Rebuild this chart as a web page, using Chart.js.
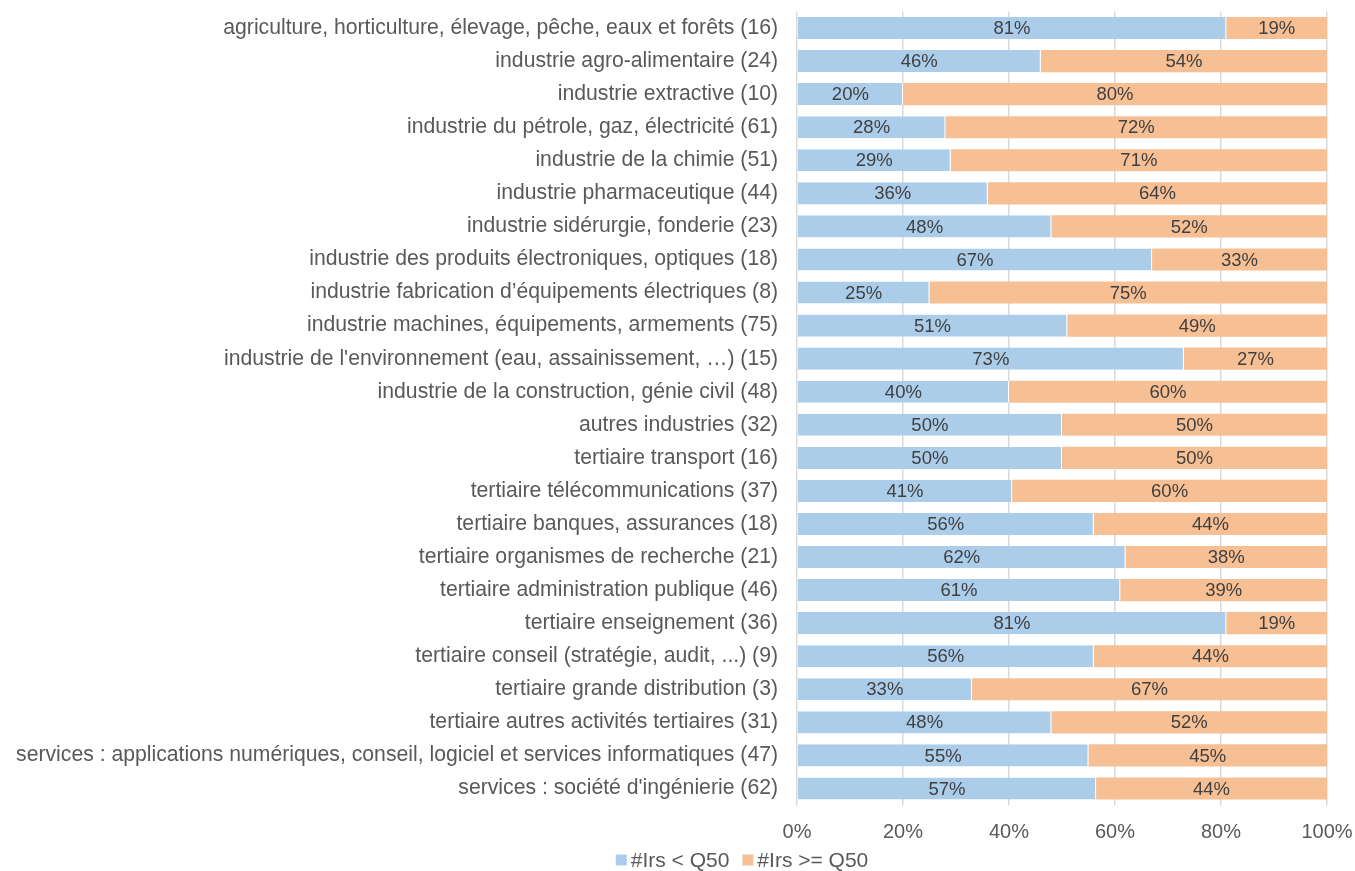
<!DOCTYPE html>
<html lang="fr">
<head>
<meta charset="utf-8">
<script src="https://cdn.jsdelivr.net/npm/chart.js@4.4.1/dist/chart.umd.min.js"></script>
<style>
    html, body { margin: 0; padding: 0; background: #ffffff; }
    #wrap { position: absolute; left: 0; top: 0; width: 1355px; height: 871px; }
</style>
</head>
<body>
<div id="wrap"><canvas id="chart" width="1355" height="871"></canvas></div>
<script>
'use strict';

const sectors = [
    "agriculture, horticulture, élevage, pêche, eaux et forêts (16)",
    "industrie agro-alimentaire (24)",
    "industrie extractive (10)",
    "industrie du pétrole, gaz, électricité (61)",
    "industrie de la chimie (51)",
    "industrie pharmaceutique (44)",
    "industrie sidérurgie, fonderie (23)",
    "industrie des produits électroniques, optiques (18)",
    "industrie fabrication d’équipements électriques (8)",
    "industrie machines, équipements, armements (75)",
    "industrie de l'environnement (eau, assainissement, …) (15)",
    "industrie de la construction, génie civil (48)",
    "autres industries (32)",
    "tertiaire transport (16)",
    "tertiaire télécommunications (37)",
    "tertiaire banques, assurances (18)",
    "tertiaire organismes de recherche (21)",
    "tertiaire administration publique (46)",
    "tertiaire enseignement (36)",
    "tertiaire conseil (stratégie, audit, ...) (9)",
    "tertiaire grande distribution (3)",
    "tertiaire autres activités tertiaires (31)",
    "services : applications numériques, conseil, logiciel et services informatiques (47)",
    "services : société d'ingénierie (62)"
];

// share of engineers below / above the median, in %
const belowQ50 = [81, 46, 20, 28, 29, 36, 48, 67, 25, 51, 73, 40, 50, 50, 41, 56, 62, 61, 81, 56, 33, 48, 55, 57];
const aboveQ50 = [19, 54, 80, 72, 71, 64, 52, 33, 75, 49, 27, 60, 50, 50, 60, 44, 38, 39, 19, 44, 67, 52, 45, 44];

const xTicks = [0, 20, 40, 60, 80, 100];

const FONT = "'Liberation Sans', Arial, sans-serif";
const BLUE = '#abcdea';
const ORANGE = '#f7bf94';

// 100% stacked: each row is scaled to its own total
const share = (vals, i) => vals[i] * 100 / (belowQ50[i] + aboveQ50[i]);

// writes the rounded percentage in the middle of each segment
const segmentLabels = {
    id: 'segmentLabels',
    afterDatasetsDraw(chart) {
        const ctx = chart.ctx;
        ctx.save();
        ctx.font = "18.5px " + FONT;
        ctx.fillStyle = '#404040';
        ctx.textAlign = 'center';
        ctx.textBaseline = 'middle';
        chart.data.datasets.forEach((ds, di) => {
            const meta = chart.getDatasetMeta(di);
            meta.data.forEach((bar, i) => {
                const cx = (bar.x + bar.base) / 2;
                ctx.fillText(ds.raw[i] + '%', cx, bar.y + 1);
            });
        });
        ctx.restore();
    }
};

// small legend under the axis, squares tight against the text
const bottomLegend = {
    id: 'bottomLegend',
    afterDraw(chart, args, opts) {
        const ctx = chart.ctx;
        const box = 11, gap = 4, itemGap = 13;
        ctx.save();
        ctx.font = opts.size + "px " + FONT;
        ctx.textBaseline = 'middle';
        const items = chart.data.datasets.map(ds => ({
            text: ds.label,
            color: ds.backgroundColor,
            w: ctx.measureText(ds.label).width
        }));
        const total = items.reduce((s, it) => s + box + gap + it.w, 0) + itemGap * (items.length - 1);
        let x = opts.centerX - total / 2;
        items.forEach(it => {
            ctx.fillStyle = it.color;
            ctx.fillRect(x, opts.y - box / 2 - 1, box, box);
            x += box + gap;
            ctx.fillStyle = '#595959';
            ctx.fillText(it.text, x, opts.y);
            x += it.w + itemGap;
        });
        ctx.restore();
    }
};

new Chart(document.getElementById('chart'), {
    type: 'bar',
    data: {
        labels: sectors,
        datasets: [
            {
                label: '#Irs < Q50',
                raw: belowQ50,
                data: belowQ50.map((v, i) => share(belowQ50, i)),
                backgroundColor: BLUE,
                borderColor: '#ffffff',
                borderWidth: { right: 1 },
                borderSkipped: false,
                barPercentage: 0.67,
                categoryPercentage: 1
            },
            {
                label: '#Irs >= Q50',
                raw: aboveQ50,
                data: aboveQ50.map((v, i) => share(aboveQ50, i)),
                backgroundColor: ORANGE,
                borderWidth: 0,
                barPercentage: 0.67,
                categoryPercentage: 1
            }
        ]
    },
    options: {
        indexAxis: 'y',
        responsive: false,
        animation: false,
        layout: { padding: { left: 10, top: 11.5, right: 28, bottom: 12 } },
        scales: {
            x: {
                stacked: true,
                min: 0,
                max: 100,
                afterBuildTicks: (axis) => { axis.ticks = xTicks.map(v => ({ value: v })); },
                afterFit: (axis) => { axis.paddingLeft = 0; axis.paddingRight = 0; },
                grid: { color: '#d9d9d9', lineWidth: 1.5, drawTicks: false },
                border: { display: false },
                ticks: {
                    padding: 15,
                    color: '#595959',
                    font: { family: FONT, size: 20 },
                    callback: (v) => v + '%'
                }
            },
            y: {
                stacked: true,
                afterFit: (axis) => {
                    axis.width = 787;
                    axis.paddingTop = 0;
                    axis.paddingBottom = 0;
                },
                grid: { display: false, drawTicks: false },
                border: { display: false },
                ticks: {
                    padding: 19,
                    color: '#595959',
                    autoSkip: false,
                    font: { family: FONT, size: 21.2 }
                }
            }
        },
        plugins: {
            legend: { display: false },
            tooltip: { enabled: false },
            bottomLegend: { centerX: 742, y: 861, size: 21 }
        }
    },
    plugins: [segmentLabels, bottomLegend]
});
</script>
</body>
</html>
